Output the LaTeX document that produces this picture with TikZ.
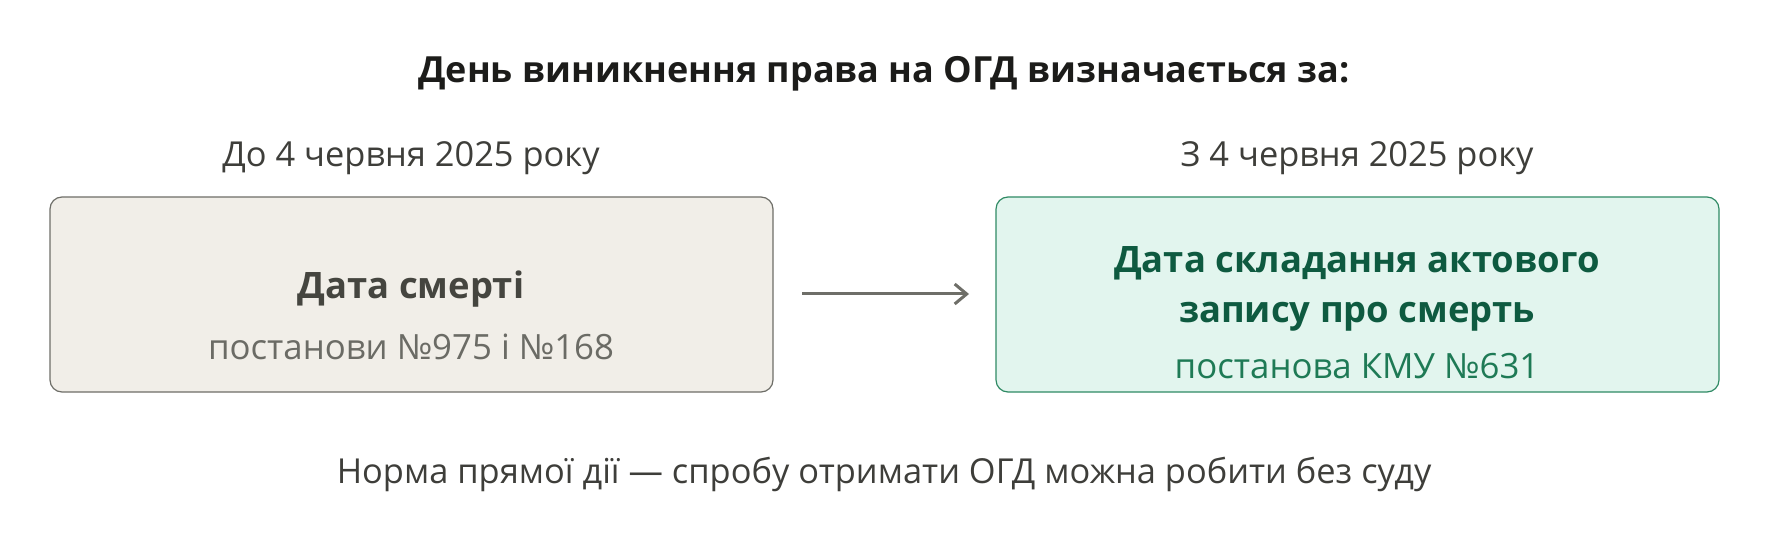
\documentclass[tikz,border=0pt]{standalone}
\usepackage{fontspec}
\setmainfont{Open Sans}
\usetikzlibrary{arrows.meta}
\definecolor{titleink}{HTML}{1C1C1A}
\definecolor{subink}{HTML}{3E3E3A}
\definecolor{oldfill}{HTML}{F1EEE8}
\definecolor{oldline}{HTML}{6E6E68}
\definecolor{oldink}{HTML}{45453F}
\definecolor{oldnote}{HTML}{6B6B65}
\definecolor{newfill}{HTML}{E2F5EE}
\definecolor{newline}{HTML}{2F8A64}
\definecolor{newink}{HTML}{0E5A40}
\definecolor{newnote}{HTML}{1E7A55}
\tikzset{
  period/.style={font=\fontsize{17.2}{20}\selectfont, text=subink},
  card/.style={rounded corners=6pt, minimum width=361.5pt, minimum height=97.5pt, line width=0.6pt},
  head/.style={font=\fontsize{18.2}{25}\selectfont\bfseries, align=center},
  note/.style={font=\fontsize{17.4}{20}\selectfont},
}
\begin{document}
\begin{tikzpicture}[x=0.5pt,y=-0.5pt]
\useasboundingbox (0,0) rectangle (1788,534);
\node [font=\fontsize{18}{20}\selectfont\bfseries, text=titleink] (title) at (884,74) {День виникнення права на ОГД визначається за:};
\node [period] (before) at (411,158) {До 4 червня 2025 року};
\node [period] (after) at (1357,158) {З 4 червня 2025 року};
% boxes
\node [card, draw=oldline, fill=oldfill] (old) at (411.5,294.5) {};
\node [card, draw=newline, fill=newfill] (new) at (1357.5,294.5) {};
\node [head, text=oldink] (oldhead) at (411,289) {Дата смерті};
\node [note, text=oldnote] (oldnote) at (411,347) {постанови №975 і №168};
\node [head, text=newink] (newhead) at (1357,289) {Дата складання актового\\запису про смерть};
\node [note, text=newnote] (newnote) at (1357,366) {постанова КМУ №631};
% arrow
\coordinate (from) at (802,294);
\coordinate (to) at (969,294);
\draw [line width=1.5pt, oldline, -{Straight Barb[length=6pt,width=10pt]}] (from) -- (to);
\node [period] (rule) at (884,474) {Норма прямої дії — спробу отримати ОГД можна робити без суду};
\end{tikzpicture}
\end{document}
